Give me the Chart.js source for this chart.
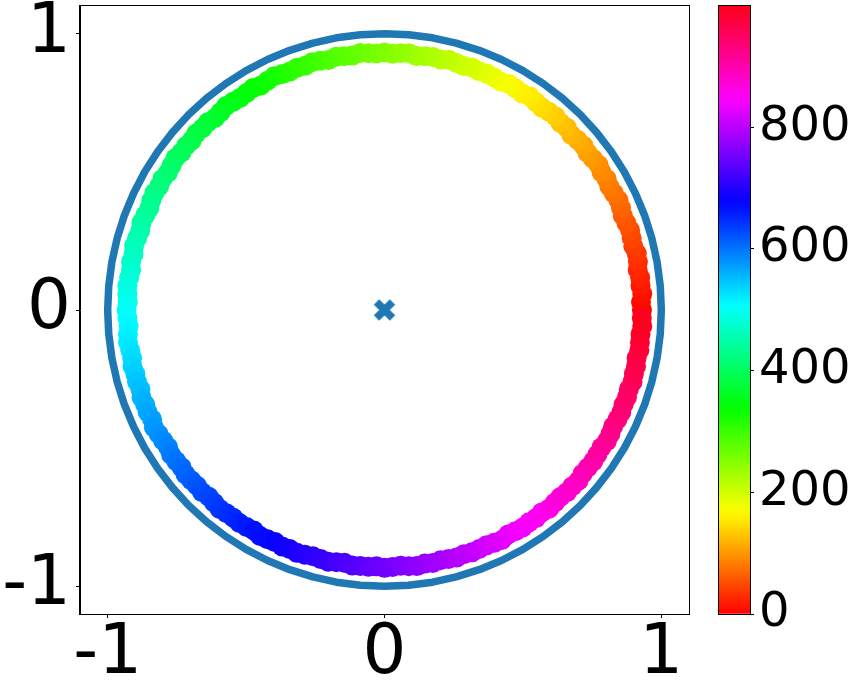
<!DOCTYPE html>
<html>
<head>
<meta charset="utf-8">
<script src="https://cdn.jsdelivr.net/npm/chart.js@4.4.0/dist/chart.umd.min.js"></script>
<style>
  html, body { margin: 0; padding: 0; background: #fff; }
  #wrap { position: relative; width: 855px; height: 680px; }
  #main { position: absolute; left: 0; top: 0; }
  #cbar { position: absolute; left: 700px; top: 0; }
</style>
</head>
<body>
<div id="wrap">
  <canvas id="main" width="700" height="680"></canvas>
  <canvas id="cbar" width="155" height="680"></canvas>
</div>
<script>
// colour value of each scatter point (index, 0..999)
const pointValues = [
  0,5,10,15,20,25,30,35,40,45, 50,55,60,65,70,75,80,85,90,95,
  100,105,110,115,120,125,130,135,140,145, 150,155,160,165,170,175,180,185,190,195,
  200,205,210,215,220,225,230,235,240,245, 250,255,260,265,270,275,280,285,290,295,
  300,305,310,315,320,325,330,335,340,345, 350,355,360,365,370,375,380,385,390,395,
  400,405,410,415,420,425,430,435,440,445, 450,455,460,465,470,475,480,485,490,495,
  500,505,510,515,520,525,530,535,540,545, 550,555,560,565,570,575,580,585,590,595,
  600,605,610,615,620,625,630,635,640,645, 650,655,660,665,670,675,680,685,690,695,
  700,705,710,715,720,725,730,735,740,745, 750,755,760,765,770,775,780,785,790,795,
  800,805,810,815,820,825,830,835,840,845, 850,855,860,865,870,875,880,885,890,895,
  900,905,910,915,920,925,930,935,940,945, 950,955,960,965,970,975,980,985,990,995
];
// polar position of each point, angle in degrees
const pointAngles = [
  0,1.8,3.6,5.4,7.2,9,10.8,12.6,14.4,16.2,
  18,19.8,21.6,23.4,25.2,27,28.8,30.6,32.4,34.2,
  36,37.8,39.6,41.4,43.2,45,46.8,48.6,50.4,52.2,
  54,55.8,57.6,59.4,61.2,63,64.8,66.6,68.4,70.2,
  72,73.8,75.6,77.4,79.2,81,82.8,84.6,86.4,88.2,
  90,91.8,93.6,95.4,97.2,99,100.8,102.6,104.4,106.2,
  108,109.8,111.6,113.4,115.2,117,118.8,120.6,122.4,124.2,
  126,127.8,129.6,131.4,133.2,135,136.8,138.6,140.4,142.2,
  144,145.8,147.6,149.4,151.2,153,154.8,156.6,158.4,160.2,
  162,163.8,165.6,167.4,169.2,171,172.8,174.6,176.4,178.2,
  180,181.8,183.6,185.4,187.2,189,190.8,192.6,194.4,196.2,
  198,199.8,201.6,203.4,205.2,207,208.8,210.6,212.4,214.2,
  216,217.8,219.6,221.4,223.2,225,226.8,228.6,230.4,232.2,
  234,235.8,237.6,239.4,241.2,243,244.8,246.6,248.4,250.2,
  252,253.8,255.6,257.4,259.2,261,262.8,264.6,266.4,268.2,
  270,271.8,273.6,275.4,277.2,279,280.8,282.6,284.4,286.2,
  288,289.8,291.6,293.4,295.2,297,298.8,300.6,302.4,304.2,
  306,307.8,309.6,311.4,313.2,315,316.8,318.6,320.4,322.2,
  324,325.8,327.6,329.4,331.2,333,334.8,336.6,338.4,340.2,
  342,343.8,345.6,347.4,349.2,351,352.8,354.6,356.4,358.2
];
const pointRadii = [
  0.930,0.927,0.933,0.929,0.931,0.926,0.932,0.934,0.928,0.930,
  0.933,0.929,0.926,0.931,0.934,0.930,0.927,0.932,0.929,0.935,
  0.931,0.928,0.933,0.930,0.926,0.932,0.929,0.934,0.931,0.927,
  0.930,0.934,0.928,0.931,0.933,0.927,0.930,0.932,0.929,0.933,
  0.928,0.931,0.935,0.929,0.932,0.930,0.926,0.933,0.931,0.928,
  0.932,0.929,0.931,0.934,0.928,0.930,0.933,0.927,0.931,0.934,
  0.929,0.932,0.928,0.930,0.935,0.931,0.927,0.933,0.930,0.928,
  0.931,0.934,0.929,0.926,0.932,0.930,0.933,0.928,0.931,0.929,
  0.934,0.930,0.927,0.932,0.929,0.933,0.931,0.926,0.930,0.933,
  0.928,0.931,0.934,0.929,0.932,0.927,0.930,0.933,0.931,0.928,
  0.932,0.929,0.926,0.931,0.934,0.930,0.928,0.933,0.929,0.931,
  0.927,0.933,0.930,0.932,0.928,0.935,0.931,0.929,0.926,0.932,
  0.930,0.928,0.933,0.931,0.929,0.932,0.927,0.930,0.934,0.931,
  0.929,0.932,0.930,0.927,0.933,0.931,0.928,0.932,0.930,0.934,
  0.931,0.928,0.930,0.933,0.929,0.926,0.932,0.930,0.931,0.928,
  0.933,0.930,0.927,0.931,0.934,0.929,0.932,0.928,0.930,0.933,
  0.929,0.932,0.930,0.928,0.931,0.934,0.927,0.930,0.932,0.929,
  0.931,0.927,0.933,0.930,0.928,0.932,0.931,0.934,0.929,0.930,
  0.932,0.930,0.928,0.933,0.931,0.927,0.930,0.932,0.929,0.931,
  0.928,0.933,0.930,0.931,0.927,0.932,0.930,0.929,0.933,0.930
];
// unit circle drawn around the points
const ringRadius = 1;
const ringAngles = [
  0,5,10,15,20,25,30,35,40,45,50,55,60,65,70,75,80,85,90,95,100,105,110,115,
  120,125,130,135,140,145,150,155,160,165,170,175,180,185,190,195,200,205,210,215,
  220,225,230,235,240,245,250,255,260,265,270,275,280,285,290,295,300,305,310,315,
  320,325,330,335,340,345,350,355,360
];
const centre = [{ x: 0, y: 0 }];

const xTicks = [-1, 0, 1];
const yTicks = [-1, 0, 1];
const cbarRange = [0, 999];
const cbarTicks = [0, 200, 400, 600, 800];

// matplotlib 'hsv' colormap segments
const hsvR = [[0,1],[0.15873,1],[0.174603,0.96875],[0.333333,0.03125],[0.349206,0],[0.666667,0],[0.68254,0.03125],[0.84127,0.96875],[0.857143,1],[1,1]];
const hsvG = [[0,0],[0.15873,0.9375],[0.174603,1],[0.507937,1],[0.666667,0.0625],[0.68254,0],[1,0]];
const hsvB = [[0,0],[0.333333,0],[0.349206,0.0625],[0.507937,1],[0.84127,1],[0.857143,0.9375],[1,0.09375]];

function seg(table, t) {
    for (let i = 1; i < table.length; i++) {
        if (t <= table[i][0]) {
            const [x0, y0] = table[i - 1], [x1, y1] = table[i];
            return y0 + (y1 - y0) * (t - x0) / (x1 - x0);
        }
    }
    return table[table.length - 1][1];
}
function hsv(t) {
    t = Math.min(1, Math.max(0, t));
    const c = v => Math.round(v * 255);
    return `rgb(${c(seg(hsvR, t))},${c(seg(hsvG, t))},${c(seg(hsvB, t))})`;
}

const toRad = d => d * Math.PI / 180;
const scatterPts = pointAngles.map((a, i) => ({ x: pointRadii[i] * Math.cos(toRad(a)), y: pointRadii[i] * Math.sin(toRad(a)) }));
const scatterCols = pointValues.map(v => hsv((v - cbarRange[0]) / (cbarRange[1] - cbarRange[0])));
const ringPts = ringAngles.map(a => ({ x: ringRadius * Math.cos(toRad(a)), y: ringRadius * Math.sin(toRad(a)) }));

// thick filled 'X' marker
const xMark = document.createElement('canvas');
xMark.width = 26; xMark.height = 26;
(function () {
    const c = xMark.getContext('2d');
    c.strokeStyle = '#1f77b4';
    c.lineWidth = 7.5;
    c.lineCap = 'butt';
    c.beginPath();
    c.moveTo(5, 5); c.lineTo(21, 21);
    c.moveTo(21, 5); c.lineTo(5, 21);
    c.stroke();
})();

const frame = {
    id: 'frame',
    afterDraw(chart) {
        const a = chart.chartArea, ctx = chart.ctx;
        ctx.save();
        ctx.strokeStyle = '#000';
        ctx.lineWidth = 1;
        ctx.strokeRect(Math.round(a.left) - 0.5, Math.round(a.top) - 0.5, Math.round(a.right - a.left) + 1, Math.round(a.bottom - a.top) + 1);
        ctx.restore();
    }
};

// fixed axis sizes, no extra room reserved for overhanging labels
const fixSize = (w, h) => s => {
    if (w !== null) s.width = w;
    if (h !== null) s.height = h;
    s.paddingTop = 0; s.paddingBottom = 0; s.paddingLeft = 0; s.paddingRight = 0;
};

const font = { family: 'DejaVu Sans', size: 69 };
const tickGrid = { display: true, drawOnChartArea: false, drawTicks: true, tickLength: 4, color: '#000', lineWidth: 1 };

new Chart(document.getElementById('main'), {
    type: 'scatter',
    data: {
        datasets: [
            { data: scatterPts, pointBackgroundColor: scatterCols, pointBorderWidth: 0, pointRadius: 10, showLine: false },
            { data: ringPts, showLine: true, borderColor: '#1f77b4', borderWidth: 7.5, borderCapStyle: 'round', borderJoinStyle: 'round', pointRadius: 0, fill: false, tension: 0 },
            { data: centre, pointStyle: xMark, pointRadius: 13 }
        ]
    },
    options: {
        responsive: false,
        animation: false,
        events: [],
        layout: { autoPadding: false, padding: { top: 6, right: 11, left: 0, bottom: 0 } },
        plugins: { legend: { display: false }, tooltip: { enabled: false } },
        scales: {
            x: {
                type: 'linear', min: -1.1, max: 1.1,
                afterBuildTicks: s => { s.ticks = xTicks.map(v => ({ value: v })); },
                afterFit: fixSize(null, 66),
                ticks: { font, color: '#000', padding: -4, maxRotation: 0, callback: v => String(v) },
                grid: tickGrid,
                border: { display: true, color: '#000', width: 1 }
            },
            y: {
                type: 'linear', min: -1.1, max: 1.1,
                afterBuildTicks: s => { s.ticks = yTicks.map(v => ({ value: v })); },
                afterFit: fixSize(80, null),
                ticks: { font, color: '#000', padding: 5, callback: v => String(v) },
                grid: tickGrid,
                border: { display: true, color: '#000', width: 1 }
            }
        }
    },
    plugins: [frame]
});

// colour bar
new Chart(document.getElementById('cbar'), {
    type: 'bar',
    data: {
        labels: [''],
        datasets: [{
            data: [cbarRange],
            barPercentage: 1,
            categoryPercentage: 1,
            borderWidth: 0,
            backgroundColor: ctx => {
                const a = ctx.chart.chartArea;
                if (!a) return '#f00';
                const g = ctx.chart.ctx.createLinearGradient(0, a.bottom, 0, a.top);
                for (let i = 0; i <= 100; i++) g.addColorStop(i / 100, hsv(i / 100));
                return g;
            }
        }]
    },
    options: {
        responsive: false,
        animation: false,
        events: [],
        layout: { autoPadding: false, padding: { top: 6, right: 0, left: 19, bottom: 66 } },
        plugins: { legend: { display: false }, tooltip: { enabled: false } },
        scales: {
            x: { display: false },
            y: {
                position: 'right', min: cbarRange[0], max: cbarRange[1],
                afterBuildTicks: s => { s.ticks = cbarTicks.map(v => ({ value: v })); },
                afterFit: fixSize(105, null),
                ticks: { font: { family: 'DejaVu Sans', size: 48 }, color: '#000', padding: 5, callback: v => String(v) },
                grid: tickGrid,
                border: { display: false }
            }
        }
    },
    plugins: [frame]
});
</script>
</body>
</html>
